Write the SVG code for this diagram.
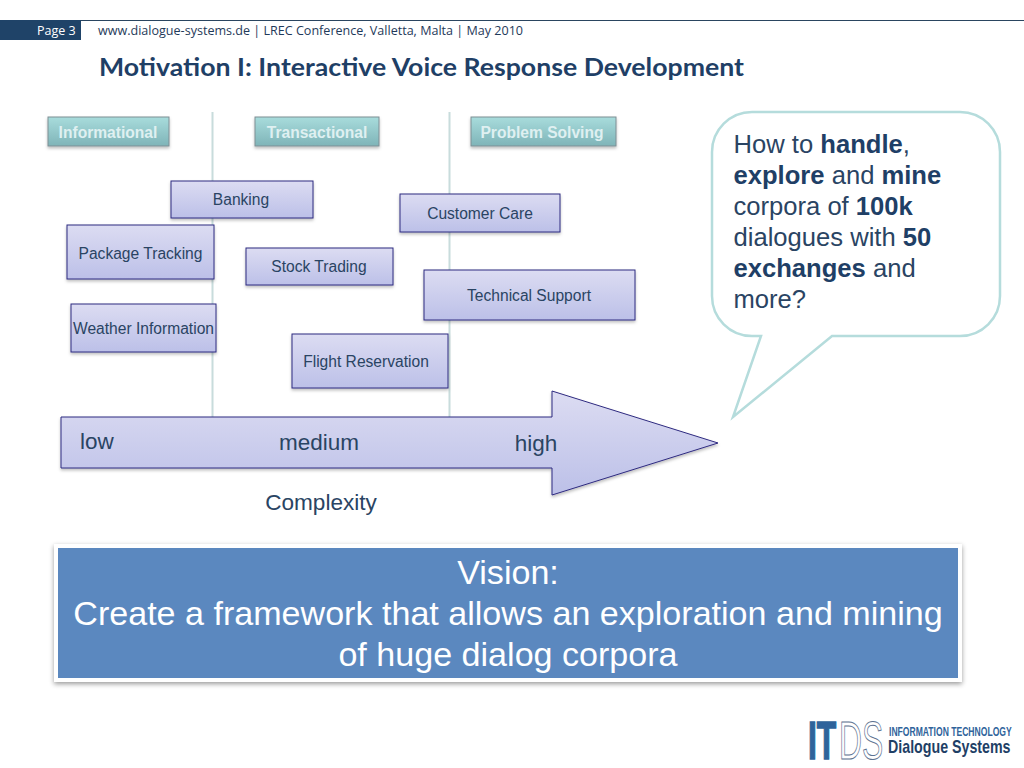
<svg xmlns="http://www.w3.org/2000/svg" width="1024" height="768" viewBox="0 0 1024 768">
<style>
text{font-family:"Liberation Sans",Arial,sans-serif}
.hd{font-family:Lato,"Open Sans",sans-serif}
.box{fill:url(#lav);stroke:#2e2a80;stroke-width:1;filter:url(#sh)}
.lb{font-size:15.6px;fill:#2a4463;text-anchor:middle}
.tag{fill:url(#teal);stroke:#7f8f94;stroke-width:1;filter:url(#sh)}
.tt{font-size:15.6px;font-weight:bold;fill:#dff0f1;text-anchor:middle}
.sep{stroke:#c8dcdc;stroke-width:2;fill:none}
.ax{font-size:22.500px;fill:#2a4463;text-anchor:middle}
.bb{font-size:25.600px;fill:#2a4463}
.bb tspan.b{font-weight:bold;fill:#1f3f66}
.vis{font-size:34.100px;fill:#fff;text-anchor:middle}
.nar{font-weight:bold}
</style>
<defs>
<linearGradient id="lav" x1="0" y1="0" x2="0" y2="1"><stop offset="0" stop-color="#dcdcf2"/><stop offset="1" stop-color="#bcc0e8"/></linearGradient>
<linearGradient id="teal" x1="0" y1="0" x2="0" y2="1"><stop offset="0" stop-color="#a8dcdc"/><stop offset="1" stop-color="#7fb4b8"/></linearGradient>
<filter id="sh" x="-10%" y="-20%" width="120%" height="150%"><feDropShadow dx="0" dy="2" stdDeviation="1.500" flood-color="#000" flood-opacity=".25"/></filter>
<filter id="sh2" x="-5%" y="-10%" width="110%" height="120%"><feDropShadow dx="0" dy="2" stdDeviation="2.500" flood-color="#000" flood-opacity=".4"/></filter>
</defs>
<rect width="1024" height="768" fill="#fff"/>
<g id="header">
<rect x="0" y="20" width="1024" height="1" fill="#2a4560"/>
<rect x="0" y="20" width="81" height="20" fill="#1f4368"/>
<text x="37" y="35" font-size="12.500" fill="#fff" style="font-family:'Open Sans',sans-serif">Page 3</text>
<text x="98" y="35" font-size="12.500" fill="#1f3a5a" style="font-family:'Open Sans',sans-serif" textLength="425" lengthAdjust="spacingAndGlyphs">www.dialogue-systems.de | LREC Conference, Valletta, Malta | May 2010</text>
<text class="hd" x="99" y="76" font-size="25" font-weight="bold" fill="#1f3f66" textLength="645" lengthAdjust="spacingAndGlyphs">Motivation I: Interactive Voice Response Development</text>
</g>
<g id="connectors">
<path class="sep" d="M212.500 112V418"/>
<path class="sep" d="M449.500 112V418"/>
</g>
<g id="tag-informational"><rect class="tag" x="48" y="117" width="121" height="29"/><text class="tt" x="108" y="138">Informational</text></g>
<g id="tag-transactional"><rect class="tag" x="255" y="117" width="124" height="29"/><text class="tt" x="317" y="138">Transactional</text></g>
<g id="tag-problem"><rect class="tag" x="471" y="117" width="145" height="29"/><text class="tt" x="542" y="138">Problem Solving</text></g>
<g id="banking"><rect class="box" x="171" y="181" width="142" height="37"/><text class="lb" x="241" y="205">Banking</text></g>
<g id="customer-care"><rect class="box" x="400" y="194" width="160" height="38"/><text class="lb" x="480" y="219">Customer Care</text></g>
<g id="package-tracking"><rect class="box" x="67" y="225" width="147" height="54"/><text class="lb" x="140.500" y="259">Package Tracking</text></g>
<g id="stock-trading"><rect class="box" x="246" y="248" width="147" height="37"/><text class="lb" x="319" y="272">Stock Trading</text></g>
<g id="technical-support"><rect class="box" x="424" y="270" width="211" height="50"/><text class="lb" x="529" y="301">Technical Support</text></g>
<g id="weather"><rect class="box" x="71" y="304" width="145" height="48"/><text class="lb" x="143.500" y="334">Weather Information</text></g>
<g id="flight"><rect class="box" x="292" y="334" width="156" height="54"/><text class="lb" x="366" y="367">Flight Reservation</text></g>
<g id="complexity-arrow">
<path class="box" d="M61 417H552V391L718 443L552 495V468H61Z"/>
<text class="ax" x="97" y="449">low</text>
<text class="ax" x="319" y="450">medium</text>
<text class="ax" x="536" y="451">high</text>
</g>
<text id="complexity" x="321" y="510" font-size="22.600" fill="#2a4463" text-anchor="middle">Complexity</text>
<g id="bubble">
<path d="M752 112H960A40 40 0 0 1 1000 152V296A40 40 0 0 1 960 336H832L733 417L761 336H752A40 40 0 0 1 712 296V152A40 40 0 0 1 752 112Z" fill="#fff" stroke="#b5dcdc" stroke-width="2.500"/>
<text class="bb" x="733.500" y="153">How to <tspan class="b">handle</tspan>,</text>
<text class="bb" x="733.500" y="184"><tspan class="b">explore</tspan> and <tspan class="b">mine</tspan></text>
<text class="bb" x="733.500" y="215">corpora of <tspan class="b">100k</tspan></text>
<text class="bb" x="733.500" y="246">dialogues with <tspan class="b">50</tspan></text>
<text class="bb" x="733.500" y="277"><tspan class="b">exchanges</tspan> and</text>
<text class="bb" x="733.500" y="308">more?</text>
</g>
<g id="vision">
<rect x="54" y="544" width="908" height="138" fill="#fff" filter="url(#sh2)"/>
<rect x="58" y="548" width="900" height="130" fill="#5b88bf"/>
<text class="vis" x="508" y="584">Vision:</text>
<text class="vis" x="508" y="625">Create a framework that allows an exploration and mining</text>
<text class="vis" x="508" y="666">of huge dialog corpora</text>
</g>
<g id="logo">
<text class="nar" transform="translate(808 759) scale(.6 1)" font-size="53" fill="#2f639b" stroke="#2f639b" stroke-width="1.500">IT</text>
<text transform="translate(839 759) scale(.6 1)" font-size="53" fill="#fff" stroke="#5d7290" stroke-width="1">DS</text>
<text class="nar" transform="translate(889 736) scale(.715 1)" font-size="12" fill="#2f639b">INFORMATION TECHNOLOGY</text>
<text class="nar" transform="translate(888 753) scale(.79 1)" font-size="18" fill="#1f3f66">Dialogue Systems</text>
</g>
</svg>
